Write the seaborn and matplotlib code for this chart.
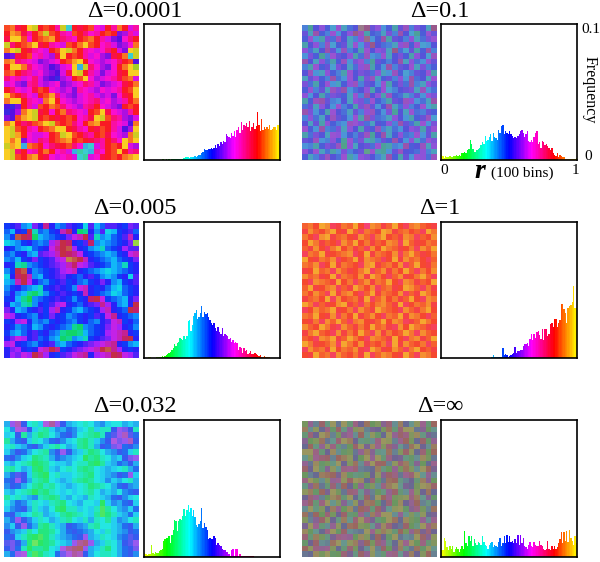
import numpy as np
import matplotlib
matplotlib.use('Agg')
import matplotlib.pyplot as plt
from matplotlib.colors import LinearSegmentedColormap
import seaborn as sns

sns.set_style('white')
plt.rcParams['font.family'] = ['Liberation Serif', 'DejaVu Serif']

titles = ['Δ=0.0001', 'Δ=0.1', 'Δ=0.005', 'Δ=1', 'Δ=0.032', 'Δ=∞']

# frequency per bin, in thousandths
hist_a = [0,0,0,0,0,0,0,0,0,0,0,0,0,.6,.6,0,.6,0,.6,0,
          .6,.6,.6,.6,.6,1,1,.6,1,1.5,2,2.5,2,1.5,2,2.5,2,3,2.5,3,
          3.5,4,5.5,6,8,7,7,8,8,9,8,9,11,9,12,10,13,12,14,13,
          19,18,17,16,20,18,21,17,22,24,20,28,22,26,25,27,24,29,21,24,
          27,23,25,35,26,21,30,22,24,23,24,23,26,22,23,24,24,22,26,14]
hist_b = [3.5,3,1.5,3,2,2.5,3,2,2.5,3,3,3.5,3,4,3,5,5,6,5,7,
          8,15,12,8,6,6,7,8,9,11,13,12,18,14,15,17,19,14,20,17,
          16,15,22,20,25,26,19,21,20,19,21,19,18,16,17,16,18,19,21,22,
          20,17,19,21,14,13,15,13,17,20,21,12,13,9,14,13,11,12,10,9,
          7,9,5,4,3,5,2,4,3,2,2,1,1,1,1,.5,1,1,1,1.5]
hist_c = [0,0,0,1,.5,0,0,0,0,.5,1,1,.5,1.5,1,1.5,2,3,3.5,4.5,
          6,7,10,9,11,12,15,14,13,16,14,16,27,28,20,24,31,33,35,29,
          30,33,38,30,34,32,33,30,28,26,24,26,22,20,23,19,18,22,16,18,
          17,16,14,15,12,13,11,12,11,6,8,7,4,7,5,6,3,4,5,3,
          3,4,3,2,1.5,2,1,1,1.5,1,.5,.5,.5,0,0,0,0,0,0,0]
hist_d = [0,0,0,0,0,0,0,0,0,0,0,0,0,0,0,0,0,0,0,0,
          0,0,0,0,0,0,0,0,0,0,0,0,0,0,0,0,0,1,2,.5,
          .5,1,1,.5,1,7,2,3,2,1,1.5,2,3,4,8,4,5,5,6,6,
          9,10,10,11,9,14,18,13,18,15,19,20,17,14,21,13,21,21,16,18,
          25,26,23,29,29,23,26,28,40,40,36,33,26,37,38,39,41,53,37,37]
hist_e = [3,2,1.5,2.5,2,9,3,2,4,3,3,4.5,5,6,12,13,14,14,15,10,
          16,20,27,26,19,26,28,27,30,35,30,34,38,33,36,30,34,29,23,22,
          24,26,36,21,25,22,20,13,14,13,13,15,14,9,10,9,8,6,5,5,
          4,4,2,1,5,6,1,6,6,1,2,1,.5,1,.5,.5,1,.5,.5,.5,
          .5,0,0,0,0,0,0,0,0,0,0,0,0,0,0,0,0,0,0,0]
hist_f = [5,5,14,12,7,5,8,6,8,4,6,7,6,4,6,8,6,19,10,8,
          15,12,15,8,13,10,9,11,10,9,15,11,9,8,6,9,10,11,7,9,
          8,7,11,14,8,10,15,10,16,11,15,11,12,10,13,10,16,9,16,10,
          14,8,7,6,9,11,8,7,11,9,8,8,12,9,8,6,5,6,12,6,
          5,8,6,8,6,7,10,13,18,10,18,12,19,11,20,14,12,9,15,10]

# hue read per coarse cell: a=0 (yellow) ... z=1 (yellow again)
img_a = ['wxuvzbvwvsbivuvwrqvsxvqs','vyxusvxbwvsrwvtrsvwvopsq','uzawrvwxyvtsrvwxvsqonrtv','btvwxzuvsrqwvxzwvrsqoprx',
         'xzbvusrqvwabxvsrqrtvqozb','nouvwrsqpuzvwvsqrpouvxib','xytsrqopqrvwyzvrqpqrtvwn','vzaxtrqpnoqrzjbtrporvxzc',
         'wxvtsqrponquabvsqoqruvza','trsqrtqonmpqvwzrpqrsuwxq','qrpostqpqropqrtsqopqruvx','vtrqruwvrqpqosrqprqrsvwz',
         'zwvtrqvwytqpoqrsqpqoruvz','xazvsrqxzvrqpqrstqrpqsvx','nmovsqwvxwtrqpstvrqpovwv','mnpxzbuvrvxtsrqvwzurqpsv',
         'onwyabvwvuvwvrsuzbwtspoq','xzvtuwxabwvwtrvxyvvsrqnx','zbwvsrvwxzavusrvuwvsqnpz','abyvrqqrvwbzwvtsvwurqpxb',
         'zxaorqtsvwxyvwvutsvtrzxa','byzjxwvrtuvwtrjiqsvwvzqp','abtvrsvxvrsqjhijsrvwzvst','zbwvxyvurqrsqihqruvwvxyz']
img_b = ['kfnqmirhlnxvoqjmgoskpnhv','ohtmkrjnqvsgmlhpktnifmro','mrjgplsnhkqwjmtgonkqhlpr','gnqksimohrjpvnlkhqsmrijn',
         'qlhntojskmgrnqphvliogmtk','jpmfkronqglsjkrhnpmgqnis','tnhqlgmsjprkfomknthqljro','kgrmoipnhlqsgmjtkonrhpkm',
         'nsjhqmkgrnpolqhjsmikonrg','hoqmktljrngpshmokqjtlnhr','plgnrjhmqskonjrgmpltkhqo','mrkohsptjlnqgmriknophsjl',
         'qjnglpomhrktnqgsmlhkojrp','gmstokjnhqplrmkgonsqjlht','lohqnjrkmgpsojnthlqkmrig','tpjmgrnlhokqsmjpfnhrlkom',
         'kqlhnsomjrgtplkhqnjgmosi','nhogqmkjsrplhnmqktolgrjp','rmjtklphqngomskhljnqpgor','glpnhrqjmkosfnthmqlkrjog',
         'onsjkqmfrlphgkomtnjqhlrp','jkgmposeqhnolrfgkjtmnshq','qnrhlgjpkmodrgfjosnmlqkh','mhkosnlrgjqpnkhtmgojrqls']
img_c = ['mnokjpntnklonmiojloonmpo','ljnmvhlkmnsunfgnkoijmnol','kmwvufjklmnprsvohkjlmosn','ijkmnlklqsvunmoukjklmnpb',
         'nmkjilmnrtvwqnmkjhlmnqoo','lkmnkjopqsvutrnmlkjkmnrs','kljmnpmnoqrxwvsnmlkjlmnp','nmhgklmnopqsurqonmljkhmn',
         'kmvwnklmnoqrsnmlkjijklmn','inuvskjmnopnmlnomkjkmnio','jksvrnlkmnomnlkmnpnkjmno','kmnlkjhmnonmkrsnmnljilmn',
         'lnkjgfhkmnonmnsnmlkijlmn','mnjgeklmnonmkmnuvrmlkjnp','njkhgknmoqrnmlnoptqnkjnv','pnjkmnomqsnmkjlmnqsnmlvu',
         'rqnmlknmpnmklmnmonrtnmlk','mnqrnklkmnmlkmnlknorsmnl','nmklmjkmnmlkgfklmnprqnmk','mkjlnomnlkgffgjlmnqrstnm',
         'nprqnolmkjfgkjhmnoprsuvn','qrnmlkmnokjlmnopqrstnmkj','npqnmnrsvtmnopqrsvwtqnmn','nqprqvtqnmoprstnqrsvurqo']
img_d = ['wxvzytuxwzvsyxuwzvtxywvu','uywvxavuzwtxwvzyuwxvwtzx','xvtyzuwxvuywtxzvwuyxtwvy','vzxuwvtywzvxuwvyxtzwuvxw',
         'wuyvtxzvxuwtyvzxwuvxtywz','txwzuvwxytvzuxwvytxzwuvx','zvuxwytvwzuyxwtvzuywxvtw','xwytvzuxwvtyzuwxvytwzvux',
         'uvzwxtywuvxztwyuxvzwtxvy','ywxuvztxwvyuzxvtwyuvxzwt','vtyxwuzvxtwyuxwzvtyxuwvz','wzuvxytwuzxvytwxuvzywtxu',
         'xvywtzuxyvtwzuxwvytwuzxv','uwxvztyvwxuztwyvxuwzvtyx','zxtwuvyzuwtxvxywuztvxwyu','tvywxzuvxtywuzxwvtywuxzv',
         'xwzvuytxvzuwyvtxwzuyxvtw','vuxtywzwtxyvuwzvyxtuwzxv','ywvzxutywuxvzwxutyvzxwut','uxzwvtyuxvzwtyuxvwzxtywv',
         'wvtyxzuwzxvtyxwuzvtxyuwz','zxuvwytzxvyuwvxtzuywvxtw','tywxuzvxwyutzxuvywtxzvwu','vuzwxtywvxuztwyxvuzwtyxv']
img_e = ['kqsnihjrtqnkjihikljiikjk','ilrqnjhgjlkmljigjhhnqpnh','jingkhfgikmnlihgfhmoqsom','gkmnjhikmnljigfhjlnrpqsn',
         'ihjkmnljhgikjgfhknmpqmnl','jlnmkihglnqnkjhfgiklnmjh','mnljifghkmlkjiegfhikjnpq','jkihgefgijjkihhfegjkmlnk',
         'hgikjfegjkihigfgijkjihkm','kmonjgfeihjjihgfijklnmqj','mnqnkhgfijkjhgfgijljkihk','lnmkigfhgijkjihfghikmnlk',
         'jkihgegfhijijihgikjkilmn','gihjklhgfgjkijkhijkmnlji','ikmljhijhgfijkiijejlkmnj','jlmnkhjkifehhjijhdgikljm',
         'mnkjighkjigfghijgdfhjkmj','kmqnljhikjhgijhkhigjlkih','ljnqmkgfhjknmlkhgiijkmnk','nlkjgiffgikmnmlkijhjklnm',
         'mnjhfedfhjklmnqkjhijlmon','opnkfcefgijkqtuqkjhiknoq','npmheggfijrtuvqkjhfikmnp','kmqrgdfhimprtsnkihhikmnl']
img_f = ['dqkuhzlagsnwecptjxmibrgv','xjbmsfuhqcykondwgtazlpei','gtnaxkdprjvibfmzquscyhol','pecwlitaxnhgjszbkrvdmufq',
         'mvhqbsgkeuzoyrctpilwanjx','azsgnyjfdlqxphiwkcubmtev','icrtukvxbmeaqzgsnohfjydl','qlyfdhzncwjsauvkbtxgpemr',
         'unagpbisrtklmxheqdwcjzvo','ekmxwvoyfhgdnbpuslrtaiqj','szdjcqrbuaymtflwvhkngxpe','hpwlgtkvneqfcjsxaiomdzyu',
         'bxfvoadltsipkehqugjrcnwm','ntqkeywgzmhulavrdcbsxipf','rugszicpjboxwfmteynqvkhl','jahcmxqeylvtguoibzfpsdkw',
         'wlvetdnugfrkxsazjqichbmo','ckpubnhxitasogezwmydfqjr','ozrgjqbmwvcdipytnluehasx','yeimsafujklzrcxbgvdqwotn',
         'tgxdhosrqeycmvnfaljkzupb','fnujkwzibxpvdtqhmyraesgc','vbsqrcmgtdnjzkueoxhlwfai','lmydafetohuqbjgrsipxncvk']

hists = [hist_a, hist_b, hist_c, hist_d, hist_e, hist_f]
imgs = [img_a, img_b, img_c, img_d, img_e, img_f]

# the fine grain averages out inside a coarse cell, so each panel is muted towards its mean colour
img_base = ['#eb3c8c', '#6e78c8', '#3a74ea', '#f06e50', '#50c8dc', '#827d78']
img_alpha = [.75, .3, .7, .4, .55, .2]

W, H = 600, 562
hue_cmap = LinearSegmentedColormap.from_list(
    'hue', ['#ffff00', '#00ff00', '#00ffff', '#0000ff', '#ff00ff', '#ff0000', '#ffff00'])
bar_colors = [hue_cmap((i + .5) / 100) for i in range(100)]

fig = plt.figure(figsize=(6, 5.62), dpi=100)


def px_axes(x0, y0, x1, y1):
    return fig.add_axes([x0 / W, 1 - y1 / H, (x1 - x0) / W, (y1 - y0) / H])


def px_text(x, y, s, **kw):
    kw.setdefault('ha', 'center')
    kw.setdefault('va', 'baseline')
    fig.text(x / W, 1 - y / H, s, color='black', **kw)


img_x = [4, 302]
hist_x = [144, 441]
rows = [(25, 160), (223, 358), (421, 557)]
title_x = [135, 440]
title_y = [17, 214, 412]

for n in range(6):
    r, c = n // 2, n % 2
    top, bot = rows[r]

    ax = px_axes(img_x[c], top, img_x[c] + 135, bot)
    ax.set_facecolor(img_base[n])
    grid = np.array([[(ord(ch) - 97) / 25 for ch in row] for row in imgs[n]])
    sns.heatmap(grid, cmap=hue_cmap, vmin=0, vmax=1, cbar=False, alpha=img_alpha[n],
                xticklabels=False, yticklabels=False, ax=ax)

    ax = px_axes(hist_x[c], top - 1, hist_x[c] + 136, bot)
    bins = list(range(100))
    sns.barplot(x=bins, y=np.array(hists[n]) / 1000, hue=bins, palette=bar_colors,
                width=1, dodge=False, legend=False, saturation=1, linewidth=0, ax=ax)
    for p in ax.patches:
        p.set_antialiased(False)
    ax.set_xlim(-.5, 99.5)
    ax.set_ylim(0, .1)
    ax.set_xticks([])
    ax.set_yticks([])
    ax.set_xlabel('')
    ax.set_ylabel('')
    for sp in ax.spines.values():
        sp.set_visible(True)
        sp.set_color('black')
        sp.set_linewidth(1.2)

    px_text(title_x[c], title_y[r], titles[n], fontsize=17.5)

px_text(591, 33, '0.1', fontsize=11)
px_text(588, 160, '0', fontsize=11)
px_text(444, 174, '0', fontsize=11)
px_text(575, 174, '1', fontsize=11)
px_text(590, 90, 'Frequency', fontsize=11.5, rotation=-90, va='center')
px_text(480, 178, 'r', fontsize=20, style='italic', weight='bold')
px_text(522, 177, '(100 bins)', fontsize=11)

fig.savefig('out.png', dpi=100)
